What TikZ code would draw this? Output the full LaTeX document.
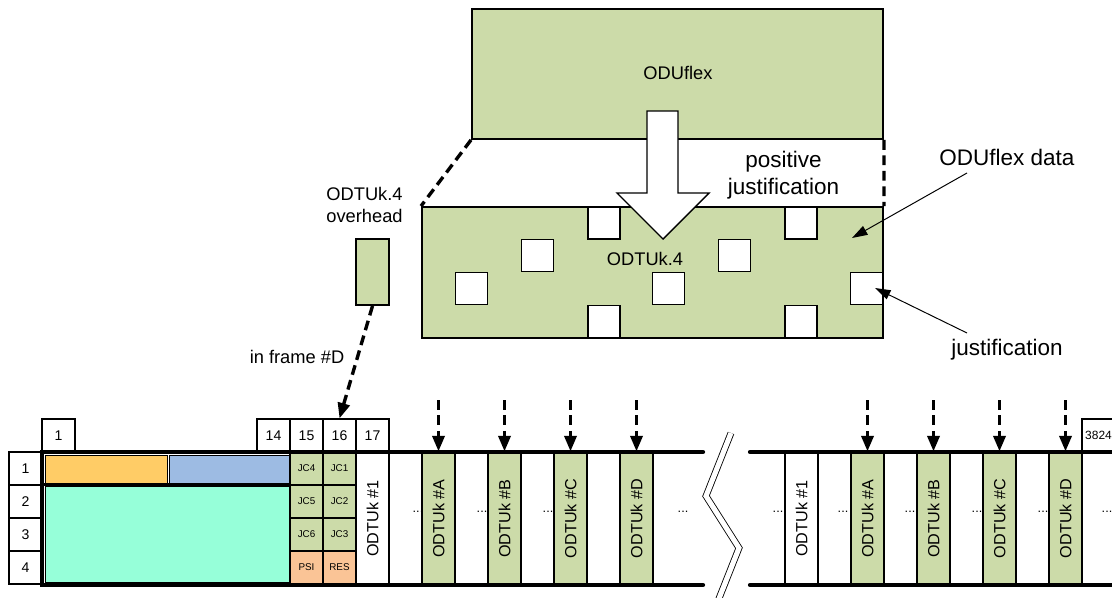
\documentclass[tikz,border=0pt]{standalone}
\usepackage{fontspec}
\setmainfont{Liberation Sans}
\usepackage{tikz}
\usetikzlibrary{arrows.meta}

\definecolor{flexgreen}{RGB}{204,219,169}
\definecolor{fagold}{RGB}{255,204,102}
\definecolor{opublue}{RGB}{157,187,227}
\definecolor{odumint}{RGB}{150,255,217}
\definecolor{psipeach}{RGB}{250,196,150}

\begin{document}
\begin{tikzpicture}[x=0.025cm, y=-0.025cm,
	cell/.style={rectangle, draw, line width=0.8pt, inner sep=0pt, minimum width=0.825cm, minimum height=0.825cm, font=\fontsize{10}{12}\selectfont},
	jccell/.style={cell, fill=flexgreen, font=\fontsize{7}{8}\selectfont},
	ohfield/.style={rectangle, draw, line width=0.6pt, inner sep=0pt},
	tribcol/.style={rectangle, draw, line width=0.8pt, inner sep=0pt, minimum width=0.825cm, minimum height=3.325cm},
	tribtext/.style={rotate=90, font=\fontsize{11.5}{13}\selectfont},
	gapdots/.style={inner sep=0pt, font=\fontsize{9}{11}\selectfont},
	frameline/.style={line width=3pt, line cap=round},
	bigbox/.style={rectangle, draw, fill=flexgreen, line width=1.3pt, inner sep=0pt},
	jbox/.style={rectangle, draw, fill=white, line width=1.3pt, inner sep=0pt, minimum width=0.8cm, minimum height=0.8cm},
	dashline/.style={line width=2.4pt, dash pattern=on 7pt off 4pt},
	dasharrow/.style={dashline, -{Triangle[length=11pt,width=8.5pt]}},
	thinarrow/.style={line width=0.7pt, -{Triangle[length=11pt,width=7pt]}},
	midtext/.style={font=\fontsize{13}{16}\selectfont, align=center},
	bigtext/.style={font=\fontsize{16}{19}\selectfont, align=center}]

	\useasboundingbox (0,0) rectangle (1112,598);

	% Top: ODUflex into ODTUk.4

	\node[bigbox, minimum width=10.275cm, minimum height=3.25cm]
	(oduflex) at (677.5,74) {};

	\node[bigbox, minimum width=11.525cm, minimum height=3.275cm]
	(odtu) at (652.5,272.5) {};

	\node[midtext] (oduflexlbl) at (678,73) {ODUflex};

	\node[jbox] (j1) at (471.5,288.5) {};
	\node[jbox] (j2) at (537.5,255.5) {};
	\node[jbox] (j3) at (604,223) {};
	\node[jbox] (j4) at (604,321.5) {};
	\node[jbox] (j5) at (668.5,288.5) {};
	\node[jbox] (j6) at (734.5,255.5) {};
	\node[jbox] (j7) at (801,223) {};
	\node[jbox] (j8) at (801,321.5) {};
	\node[jbox] (j9) at (866.5,288.5) {};

	\draw[line width=1pt, fill=white] (647,111) -- (678,111) -- (678,193) -- (709,193)
		-- (663,239) -- (617,193) -- (647,193) -- cycle;

	\node[midtext] (odtulbl) at (645,259) {ODTUk.4};

	\draw[dashline] (oduflex.south west) -- (odtu.north west);
	\draw[dashline] (oduflex.south east) -- (odtu.north east);

	\node[bigtext] (poslbl) at (783.5,175.5) {positive\\justification};

	\node[bigtext] (datalbl) at (1007,157) {ODUflex data};
	\node[bigtext] (justlbl) at (1007,350) {justification};

	\coordinate (datafrom) at (967,173);
	\coordinate (datato) at (852,238);
	\coordinate (justfrom) at (967,333);
	\coordinate (justto) at (875,288);

	\draw[thinarrow] (datafrom) -- (datato);
	\draw[thinarrow] (justfrom) -- (justto);

	% Overhead

	\node[midtext] (ohlbl) at (364.5,205) {ODTUk.4\\overhead};

	\node[rectangle, draw, fill=flexgreen, line width=1.3pt, inner sep=0pt, minimum width=0.825cm, minimum height=1.65cm]
	(ohbox) at (372.5,272) {};

	\node[midtext] (framelbl) at (297,357) {in frame \#D};

	% Frame headers

	\node[cell] (row1) at (25.5,468.5) {1};
	\node[cell] (row2) at (25.5,501.5) {2};
	\node[cell] (row3) at (25.5,534.5) {3};
	\node[cell] (row4) at (25.5,567.5) {4};

	\node[cell] (col1) at (58.5,435.5) {1};
	\node[cell] (col14) at (273.5,435.5) {14};
	\node[cell] (col15) at (306.5,435.5) {15};
	\node[cell] (col16) at (339.5,435.5) {16};
	\node[cell] (col17) at (372.5,435.5) {17};
	\node[cell, font=\fontsize{8.5}{10}\selectfont] (col3824) at (1098.5,435.5) {3824};

	\draw[dasharrow] (ohbox.south) -- (col16.north);

	% Overhead area

	\node[ohfield, fill=fagold, minimum width=3.05cm, minimum height=0.7cm] (fa) at (106,469) {};
	\node[ohfield, fill=opublue, minimum width=3.0cm, minimum height=0.7cm] (opu) at (229,469) {};
	\node[ohfield, fill=odumint, minimum width=6.1cm, minimum height=2.4cm] (odu) at (167,534) {};

	\node[jccell] (jc4) at (306.5,468.5) {JC4};
	\node[jccell] (jc1) at (339.5,468.5) {JC1};
	\node[jccell] (jc5) at (306.5,501.5) {JC5};
	\node[jccell] (jc2) at (339.5,501.5) {JC2};
	\node[jccell] (jc6) at (306.5,534.5) {JC6};
	\node[jccell] (jc3) at (339.5,534.5) {JC3};
	\node[jccell, fill=psipeach] (psi) at (306.5,567.5) {PSI};
	\node[jccell, fill=psipeach] (res) at (339.5,567.5) {RES};

	% Tributary slots

	\node[gapdots] (dotsA) at (418,512) {...};
	\node[gapdots] (dotsB) at (482,512) {...};
	\node[gapdots] (dotsC) at (548,512) {...};
	\node[gapdots] (dotsD) at (613,512) {...};
	\node[gapdots] (dotsE) at (683,512) {...};
	\node[gapdots] (rdots1) at (778,512) {...};
	\node[gapdots] (rdotsA) at (843,512) {...};
	\node[gapdots] (rdotsB) at (910,512) {...};
	\node[gapdots] (rdotsC) at (977,512) {...};
	\node[gapdots] (rdotsD) at (1043,512) {...};
	\node[gapdots] (rdotsE) at (1107,512) {...};

	\node[tribcol, fill=white, label={[tribtext]center:ODTUk \#1}] (trib1) at (372.5,518.5) {};
	\node[tribcol, fill=flexgreen, label={[tribtext]center:ODTUk \#A}] (tribA) at (438.5,518.5) {};
	\node[tribcol, fill=flexgreen, label={[tribtext]center:ODTUk \#B}] (tribB) at (504.5,518.5) {};
	\node[tribcol, fill=flexgreen, label={[tribtext]center:ODTUk \#C}] (tribC) at (570.5,518.5) {};
	\node[tribcol, fill=white] (tribX) at (603.5,518.5) {};
	\node[tribcol, fill=flexgreen, label={[tribtext]center:ODTUk \#D}] (tribD) at (636.5,518.5) {};

	\node[tribcol, fill=white, label={[tribtext]center:ODTUk \#1}] (rtrib1) at (801.5,518.5) {};
	\node[tribcol, fill=flexgreen, label={[tribtext]center:ODTUk \#A}] (rtribA) at (867.5,518.5) {};
	\node[tribcol, fill=flexgreen, label={[tribtext]center:ODTUk \#B}] (rtribB) at (933.5,518.5) {};
	\node[tribcol, fill=flexgreen, label={[tribtext]center:ODTUk \#C}] (rtribC) at (999.5,518.5) {};
	\node[tribcol, fill=flexgreen, label={[tribtext]center:ODTUk \#D}] (rtribD) at (1065.5,518.5) {};

	% Frame lines

	\draw[frameline] (703,452) -- (42,452) -- (42,585) -- (703,585);
	\draw[line width=2.4pt] (42,484.5) -- (290,484.5);
	\draw[frameline] (750,452) -- (1125,452);
	\draw[frameline] (750,585) -- (1125,585);

	\draw[line width=0.6pt, double, double distance=3.6pt] (731,433) -- (706,496) -- (739,548) -- (716,606);

	% Arrows into the slots

	\coordinate (inA) at (438.5,400);
	\coordinate (inB) at (504.5,400);
	\coordinate (inC) at (570.5,400);
	\coordinate (inD) at (636.5,400);
	\coordinate (rinA) at (867.5,400);
	\coordinate (rinB) at (933.5,400);
	\coordinate (rinC) at (999.5,400);
	\coordinate (rinD) at (1065.5,400);

	\draw[dasharrow] (inA) -- (tribA.north);
	\draw[dasharrow] (inB) -- (tribB.north);
	\draw[dasharrow] (inC) -- (tribC.north);
	\draw[dasharrow] (inD) -- (tribD.north);
	\draw[dasharrow] (rinA) -- (rtribA.north);
	\draw[dasharrow] (rinB) -- (rtribB.north);
	\draw[dasharrow] (rinC) -- (rtribC.north);
	\draw[dasharrow] (rinD) -- (rtribD.north);

\end{tikzpicture}
\end{document}
